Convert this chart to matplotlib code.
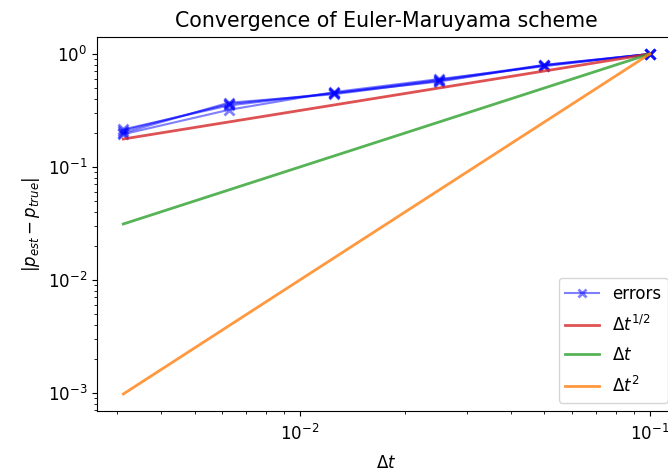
import numpy as np
import matplotlib
matplotlib.use("Agg")
import matplotlib.pyplot as plt

plt.rcParams['font.size'] = 12

dts = [0.1, 0.05, 0.025, 0.0125, 0.00625, 0.003125]
error_runs = [
    [1.0, 0.80, 0.59, 0.45, 0.36, 0.21],
    [1.0, 0.79, 0.58, 0.44, 0.37, 0.20],
    [1.0, 0.78, 0.60, 0.46, 0.32, 0.195],
    [1.0, 0.80, 0.57, 0.45, 0.35, 0.215],
]
orders = [0.5, 1.0, 2.0]
order_labels = [r'$\Delta t^{1/2}$', r'$\Delta t$', r'$\Delta t^2$']
order_colors = ['tab:red', 'tab:green', 'tab:orange']

fig = plt.figure(figsize=(6.68, 4.73), dpi=100)
ax = fig.add_axes([97/668, 62/473, 579/668, 374/473])

dt_arr = np.array(dts)
for i, run in enumerate(error_runs):
    ax.loglog(dt_arr, run, 'bx-', alpha=0.5, markersize=7, markeredgewidth=2,
              lw=1.5, label='errors' if i == 0 else None)
for p, lab, c in zip(orders, order_labels, order_colors):
    ax.loglog(dt_arr, (dt_arr / dt_arr[0]) ** p, color=c, alpha=0.8, lw=2, label=lab)

ax.set_title('Convergence of Euler-Maruyama scheme', fontsize=14.8, pad=7)
ax.tick_params(axis='x', pad=6)
ax.set_xlabel(r'$\Delta t$', labelpad=7)
ax.set_ylabel(r'$|p_{est} - p_{true}|$')
ax.legend(loc='lower right', labelspacing=0.7, markerscale=0.8)

fig.savefig('out.png', dpi=100)
